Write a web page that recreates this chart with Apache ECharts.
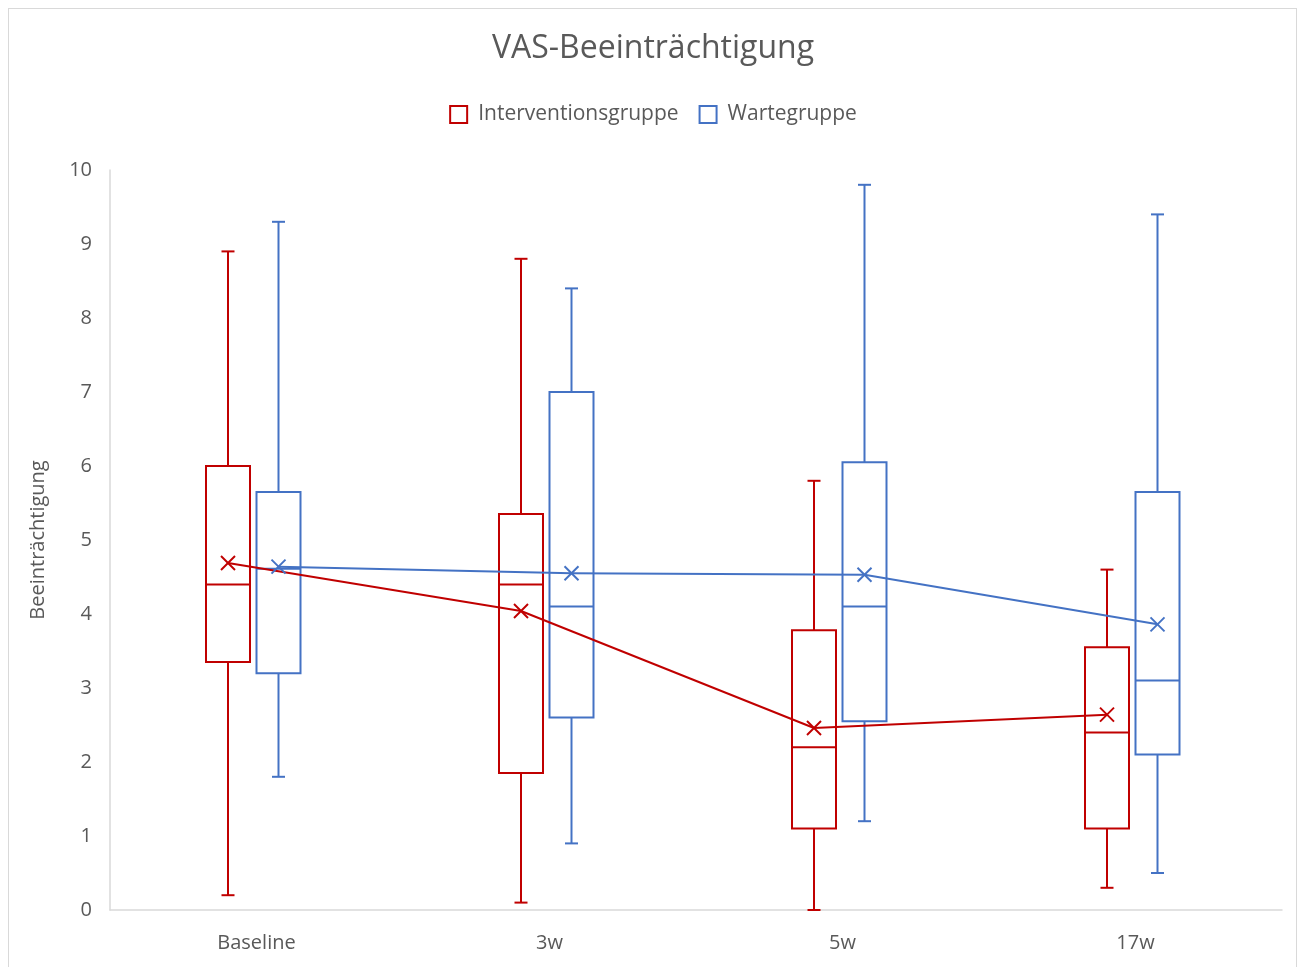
<!DOCTYPE html>
<html>
<head>
<meta charset="utf-8">
<script src="https://cdn.jsdelivr.net/npm/echarts@6/dist/echarts.min.js"></script>
<style>
html,body{margin:0;padding:0;background:#fff;}
#frame{position:absolute;left:8px;top:8px;width:1289px;height:960px;border:1px solid #d9d9d9;box-sizing:border-box;}
#chart{position:absolute;left:0;top:0;width:1306px;height:967px;}
</style>
</head>
<body>
<div id="frame"></div>
<div id="chart"></div>
<script>
const categories = ['Baseline', '3w', '5w', '17w'];
const groupNames = ['Interventionsgruppe', 'Wartegruppe'];
// [min, q1, median, q3, max]
const interventionBox = [
  [0.2, 3.35, 4.4, 6.0, 8.9],
  [0.1, 1.85, 4.4, 5.35, 8.8],
  [0.0, 1.1, 2.2, 3.78, 5.8],
  [0.3, 1.1, 2.4, 3.55, 4.6]
];
const interventionMean = [4.69, 4.04, 2.46, 2.64];
const warteBox = [
  [1.8, 3.2, 4.61, 5.65, 9.3],
  [0.9, 2.6, 4.1, 7.0, 8.4],
  [1.2, 2.55, 4.1, 6.05, 9.8],
  [0.5, 2.1, 3.1, 5.65, 9.4]
];
const warteMean = [4.64, 4.55, 4.53, 3.86];
const yTicks = [0, 10, 1];

const colors = ['#C00000', '#4472C4'];
const offsets = [-28.5 / 293, 22 / 293];
const boxW = 44 / 293;
const capW = 13 / 293;

function buildData(box, mean) {
  return box.map((b, i) => [i, b[0], b[1], b[2], b[3], b[4], mean[i]]);
}

function makeRender(g, means) {
  return function (params, api) {
    const cat = api.value(0);
    const band = api.size([1, 0])[0];
    const off = offsets[g] * band;
    const w = boxW * band;
    const cw = capW * band;
    const c = (v) => api.coord([cat, v]);
    const cx = c(0)[0] + off;
    const yMin = c(api.value(1))[1];
    const yQ1 = c(api.value(2))[1];
    const yMed = c(api.value(3))[1];
    const yQ3 = c(api.value(4))[1];
    const yMax = c(api.value(5))[1];
    const yMean = c(api.value(6))[1];
    const col = colors[g];
    const st = { stroke: col, lineWidth: 2, fill: null };
    const children = [
      { type: 'line', shape: { x1: cx, y1: yQ3, x2: cx, y2: yMax }, style: st },
      { type: 'line', shape: { x1: cx - cw / 2, y1: yMax, x2: cx + cw / 2, y2: yMax }, style: st },
      { type: 'line', shape: { x1: cx, y1: yQ1, x2: cx, y2: yMin }, style: st },
      { type: 'line', shape: { x1: cx - cw / 2, y1: yMin, x2: cx + cw / 2, y2: yMin }, style: st },
      { type: 'rect', shape: { x: cx - w / 2, y: yQ3, width: w, height: yQ1 - yQ3 }, style: { stroke: col, lineWidth: 2, fill: 'rgba(255,255,255,0)' } },
      { type: 'line', shape: { x1: cx - w / 2, y1: yMed, x2: cx + w / 2, y2: yMed }, style: st }
    ];
    const m = 7;
    children.push({ type: 'line', shape: { x1: cx - m, y1: yMean - m, x2: cx + m, y2: yMean + m }, style: st, z2: 10 });
    children.push({ type: 'line', shape: { x1: cx - m, y1: yMean + m, x2: cx + m, y2: yMean - m }, style: st, z2: 10 });
    if (cat > 0) {
      const prev = api.coord([cat - 1, means[cat - 1]]);
      const px = prev[0] + off;
      children.push({ type: 'line', shape: { x1: px, y1: prev[1], x2: cx, y2: yMean }, style: st, z2: 10 });
    }
    return { type: 'group', children: children };
  };
}

const chart = echarts.init(document.getElementById('chart'), null, { renderer: 'canvas' });
const font = "'Open Sans', 'Noto Sans', sans-serif";
chart.setOption({
  animation: false,
  textStyle: { fontFamily: font },
  title: {
    text: 'VAS-Beeinträchtigung',
    left: 'center',
    top: 28,
    textStyle: { fontSize: 32, fontWeight: 'normal', color: '#595959', fontFamily: font }
  },
  legend: {
    top: 99,
    left: 'center',
    icon: 'rect',
    itemWidth: 17,
    itemHeight: 17,
    itemGap: 20,
    textStyle: { fontSize: 21, color: '#595959', fontFamily: font, padding: [0, 0, 0, 6] },
    data: [
      { name: groupNames[0], itemStyle: { color: '#fff', borderColor: colors[0], borderWidth: 2 } },
      { name: groupNames[1], itemStyle: { color: '#fff', borderColor: colors[1], borderWidth: 2 } }
    ]
  },
  grid: { left: 110, right: 24, top: 170, bottom: 57 },
  xAxis: {
    type: 'category',
    data: categories,
    boundaryGap: true,
    axisLine: { lineStyle: { color: '#d9d9d9', width: 1.5 } },
    axisTick: { show: false },
    axisLabel: { fontSize: 20, color: '#595959', margin: 23, fontFamily: font },
    splitLine: { show: false }
  },
  yAxis: {
    type: 'value',
    min: yTicks[0],
    max: yTicks[1],
    interval: yTicks[2],
    name: 'Beeinträchtigung',
    nameLocation: 'middle',
    nameGap: 62,
    nameRotate: 90,
    nameTextStyle: { fontSize: 20, color: '#595959', fontFamily: font },
    axisLine: { show: true, lineStyle: { color: '#d9d9d9', width: 1.5 } },
    axisTick: { show: false },
    axisLabel: { fontSize: 20, color: '#595959', margin: 18, fontFamily: font },
    splitLine: { show: false }
  },
  series: [
    {
      name: groupNames[0],
      type: 'custom',
      itemStyle: { color: colors[0] },
      renderItem: makeRender(0, interventionMean),
      encode: { x: 0, y: [1, 2, 3, 4, 5, 6] },
      data: buildData(interventionBox, interventionMean)
    },
    {
      name: groupNames[1],
      type: 'custom',
      itemStyle: { color: colors[1] },
      renderItem: makeRender(1, warteMean),
      encode: { x: 0, y: [1, 2, 3, 4, 5, 6] },
      data: buildData(warteBox, warteMean)
    }
  ]
});
</script>
</body>
</html>
